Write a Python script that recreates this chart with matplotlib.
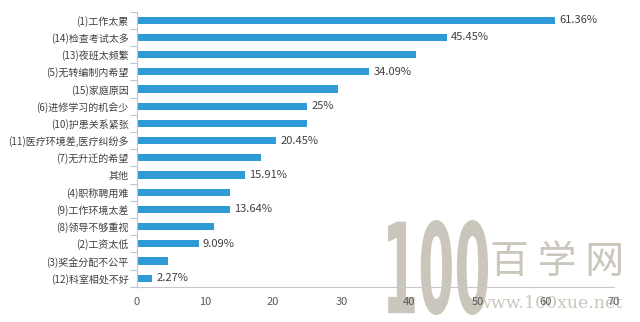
import matplotlib.pyplot as plt
from matplotlib.textpath import TextPath
from matplotlib.patches import PathPatch
from matplotlib.font_manager import FontProperties
from matplotlib.transforms import Affine2D, IdentityTransform

plt.rcParams['font.family'] = ['Noto Sans CJK SC', 'DejaVu Sans']

categories = ['(1)工作太累', '(14)检查考试太多', '(13)夜班太频繁', '(5)无转编制内希望',
              '(15)家庭原因', '(6)进修学习的机会少', '(10)护患关系紧张',
              '(11)医疗环境差,医疗纠纷多', '(7)无升迁的希望', '其他', '(4)职称聘用难',
              '(9)工作环境太差', '(8)领导不够重视', '(2)工资太低', '(3)奖金分配不公平',
              '(12)科室相处不好']
values = [61.36, 45.45, 40.91, 34.09, 29.55, 25.0, 25.0, 20.45, 18.18, 15.91,
          13.64, 13.64, 11.36, 9.09, 4.55, 2.27]
labels = ['61.36%', '45.45%', '', '34.09%', '', '25%', '', '20.45%', '', '15.91%',
          '', '13.64%', '', '9.09%', '', '2.27%']
xticks = [0, 10, 20, 30, 40, 50, 60, 70]

fig = plt.figure(figsize=(6.4, 3.22), dpi=100)
ax = fig.add_axes([0.214, 0.109, 0.745, 0.855])
ax.patch.set_visible(False)

# watermark behind the chart (pixel coordinates)
wm = '#cbc6bc'
tp = TextPath((0, 0), '100', size=1, prop=FontProperties(family='DejaVu Sans', weight='bold'))
ext = tp.get_extents()
tr = (Affine2D().translate(-ext.x0, -ext.y0)
      .scale(100 / ext.width, 95 / ext.height).translate(388, 7))
fig.add_artist(PathPatch(tp, transform=tr + IdentityTransform(), color=wm, lw=0, zorder=-2))
fig.text(0.765, 0.125, '百 学 网', fontsize=28, color=wm, zorder=-2, va='bottom')
fig.text(0.745, 0.03, 'www.100xue.net', fontsize=12.5, color=wm,
         family='DejaVu Serif', zorder=-2, va='bottom')

y = list(range(len(categories)))
ax.barh(y, values, height=0.42, color='#2e9ad6')
for yi, v, lab in zip(y, values, labels):
    if lab:
        ax.text(v + 0.6, yi, lab, va='center', ha='left', fontsize=8, color='#404040')

ax.set_ylim(len(categories) - 0.5, -0.5)
ax.set_xlim(0, 70)
ax.set_yticks(y)
ax.set_yticklabels(categories, fontsize=7.2, color='#404040')
ax.set_yticks([i + 0.5 for i in range(-1, len(categories))], minor=True)
ax.tick_params(axis='y', which='major', length=0, pad=6)
ax.tick_params(axis='y', which='minor', length=5, color='#b8c8dc', width=0.8)
ax.set_xticks(xticks)
ax.set_xticklabels([str(t) for t in xticks], fontsize=8, color='#595959')
ax.tick_params(axis='x', length=0, pad=7)

for s in ['top', 'right']:
    ax.spines[s].set_visible(False)
ax.spines['left'].set_color('#b8c8dc')
ax.spines['bottom'].set_color('#c8c8c8')
ax.spines['left'].set_linewidth(0.8)
ax.spines['bottom'].set_linewidth(0.8)

fig.savefig('out.png', dpi=100)
